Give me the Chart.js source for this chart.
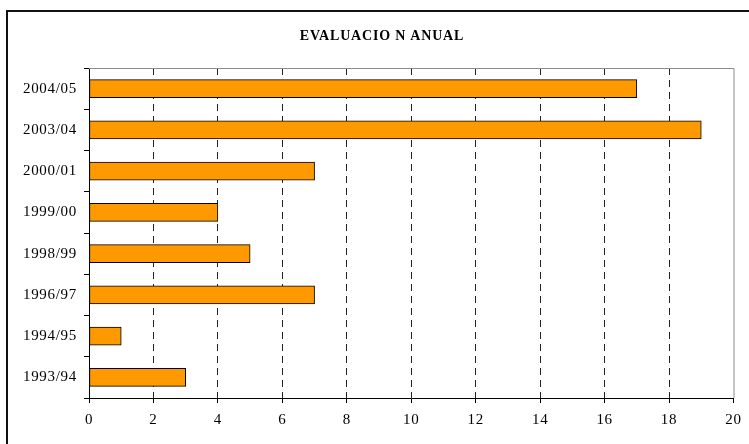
<!DOCTYPE html>
<html>
<head>
<meta charset="utf-8">
<script src="https://cdn.jsdelivr.net/npm/chart.js@4"></script>
<style>
    html, body { margin: 0; padding: 0; background: #fff; overflow: hidden; }
    #wrap { position: relative; width: 749px; height: 444px; overflow: hidden; }
    #frame {
        position: absolute; left: 6px; top: 10px; width: 800px; height: 500px;
        border-left: 2px solid #111; border-top: 2px solid #111;
        pointer-events: none;
    }
</style>
</head>
<body>
<div id="wrap">
    <canvas id="chart" width="749" height="444"></canvas>
    <div id="frame"></div>
</div>
<script>
// Data, top to bottom as in the chart
const categories = ['2004/05', '2003/04', '2000/01', '1999/00', '1998/99', '1996/97', '1994/95', '1993/94'];
const values = [17, 19, 7, 4, 5, 7, 1, 3];
const xTicks = [0, 2, 4, 6, 8, 10, 12, 14, 16, 18, 20];
const chartTitle = 'EVALUACIO N ANUAL';

const serif = '"Liberation Serif", "Times New Roman", serif';

// Title plus the gray top/right edges of the plot area
const framePlugin = {
    id: 'framePlugin',
    beforeDraw(chart) {
        // slightly wider tick text, like the original
        chart.ctx.letterSpacing = '0.7px';
    },
    afterDraw(chart) {
        const ctx = chart.ctx;
        const a = chart.chartArea;
        ctx.save();
        ctx.strokeStyle = '#8c8c8c';
        ctx.lineWidth = 1;
        ctx.beginPath();
        ctx.moveTo(a.left, a.top + 0.5);
        ctx.lineTo(a.right + 0.5, a.top + 0.5);
        ctx.lineTo(a.right + 0.5, a.bottom);
        ctx.stroke();

        ctx.fillStyle = '#000';
        ctx.font = 'bold 14px ' + serif;
        ctx.letterSpacing = '0.8px';
        ctx.textAlign = 'center';
        ctx.textBaseline = 'alphabetic';
        ctx.fillText(chartTitle, 382, 40);
        ctx.restore();
        ctx.letterSpacing = '0px';
    }
};

document.addEventListener('DOMContentLoaded', function() {
    const ctx = document.getElementById('chart').getContext('2d');
    new Chart(ctx, {
        type: 'bar',
        data: {
            labels: categories,
            datasets: [{
                data: values,
                backgroundColor: '#FF9900',
                borderColor: '#000',
                borderWidth: 1,
                borderSkipped: false,
                barThickness: 18
            }]
        },
        options: {
            indexAxis: 'y',
            responsive: false,
            animation: false,
            layout: { padding: { top: 68, right: 15, left: 0, bottom: 0 } },
            plugins: {
                legend: { display: false },
                title: { display: false },
                tooltip: { enabled: false }
            },
            scales: {
                x: {
                    min: 0,
                    max: 20,
                    afterBuildTicks(scale) {
                        scale.ticks = xTicks.map(v => ({ value: v }));
                    },
                    afterFit(scale) { scale.height = 46; },
                    grid: {
                        color: function(c) {
                            return (c.tick.value === 0 || c.tick.value === 20) ? 'rgba(0,0,0,0)' : '#222';
                        },
                        tickColor: '#000',
                        tickLength: 5,
                        tickBorderDash: [],
                        lineWidth: 1
                    },
                    border: { display: true, color: '#000', width: 1, dash: [7, 5] },
                    ticks: {
                        color: '#000',
                        padding: 8,
                        font: { family: serif, size: 15 }
                    }
                },
                y: {
                    afterFit(scale) { scale.width = 89; },
                    border: { display: true, color: '#000', width: 1 },
                    grid: {
                        drawOnChartArea: false,
                        drawTicks: true,
                        tickLength: 5,
                        tickColor: '#000',
                        offset: true
                    },
                    ticks: {
                        color: '#000',
                        padding: 7,
                        font: { family: serif, size: 15 }
                    }
                }
            }
        },
        plugins: [framePlugin]
    });
});
</script>
</body>
</html>
